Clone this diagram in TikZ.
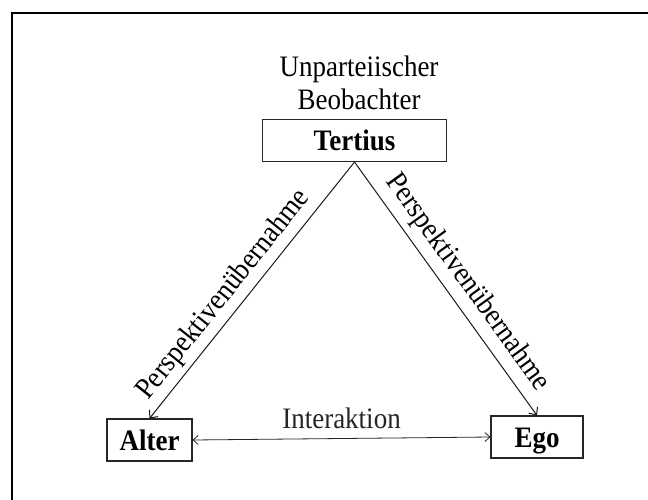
\documentclass[tikz,border=0pt]{standalone}
\usepackage{fontspec}
\setmainfont{Liberation Serif}
\usetikzlibrary{arrows.meta}
\newcommand{\tallt}[1]{\scalebox{1}[1.1]{#1}}
\begin{document}
\begin{tikzpicture}[x=1pt,y=-1pt,
  box/.style={draw=black!85,line width=1.1pt,rectangle,minimum height=42pt,inner sep=0pt,
    text height=20.5pt,text depth=0pt,
    font=\fontsize{27}{32}\selectfont\bfseries},
  lbl/.style={font=\fontsize{27}{32}\selectfont,inner sep=2pt},
  conn/.style={draw=black!90,line width=1pt},
  tipA/.style={-{Straight Barb[length=6pt,width=11pt,line width=1pt]}},
  tipB/.style={{Straight Barb[length=5pt,width=9pt,line width=0.8pt]}-{Straight Barb[length=5pt,width=9pt,line width=0.8pt]}}
]
\useasboundingbox (0,0) rectangle (648,499);
\fill[white] (0,0) rectangle (648,499);
\draw[line width=2pt,black] (12,505) -- (12,12.5) -- (655,12.5);

\node[lbl,align=center] (obs) at (359,83) {\tallt{Unparteiischer}\\[1pt]\tallt{Beobachter}};
\node[box,minimum width=184pt] (T) at (354.5,140.5) {\tallt{Tertius}};
\node[box,minimum width=85pt] (A) at (149.5,440) {\tallt{Alter}};
\node[box,minimum width=92pt] (E) at (537,437) {\tallt{Ego}};

\draw[conn,tipA] (T.south) -- node[lbl,sloped,above=3pt,pos=0.565] (p1) {\tallt{Perspektivenübernahme}} (A.north);
\draw[conn,tipA] (T.south) -- node[lbl,sloped,above=5pt,pos=0.525] (p2) {\tallt{Perspektivenübernahme}} (E.north);
\draw[line width=0.8pt,black!85,tipB] (A.east) -- node[lbl,above=7pt] (ia) {\tallt{Interaktion}} (E.west);
\end{tikzpicture}
\end{document}
